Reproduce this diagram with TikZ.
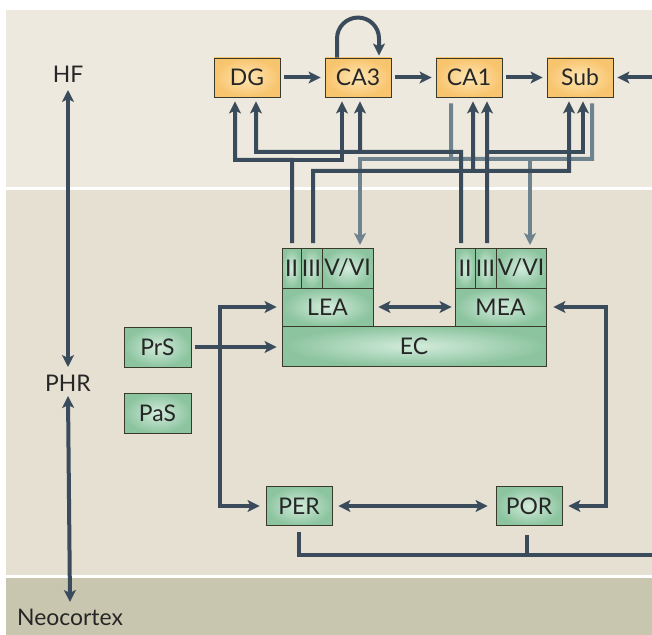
\documentclass[tikz,border=0pt]{standalone}
\usepackage{fontspec}
\setmainfont{Lato}
\usetikzlibrary{arrows.meta}
\definecolor{bgtop}{HTML}{EDE9DF}
\definecolor{bgmid}{HTML}{E5E0D2}
\definecolor{bgbot}{HTML}{C9C6B0}
\definecolor{lnd}{HTML}{3A4C5B}
\definecolor{lng}{HTML}{6F838F}
\definecolor{orin}{HTML}{FEE6B4}
\definecolor{orout}{HTML}{F8C46D}
\definecolor{grin}{HTML}{D3ECDC}
\definecolor{grout}{HTML}{8CC49F}
\definecolor{bord}{HTML}{3A3A2C}
\definecolor{txt}{HTML}{262626}
\begin{document}
\begin{tikzpicture}[x=1bp,y=-1bp,
 every node/.style={text=txt,font=\fontsize{23}{26}\selectfont},
 obox/.style={draw=bord,line width=0.9bp,shading=radial,inner color=orin,outer color=orout,minimum width=66bp,minimum height=39bp,inner sep=0},
 gbox/.style={draw=bord,line width=0.9bp,shading=radial,inner color=grin,outer color=grout,inner sep=0},
 dk/.style={draw=lnd,line width=4bp},
 gy/.style={draw=lng,line width=4bp},
 tip/.style={-{Stealth[length=12bp,width=12bp,inset=3bp]}},
 tips/.style={{Stealth[length=12bp,width=12bp,inset=3bp]}-{Stealth[length=12bp,width=12bp,inset=3bp]}},
]
% background bands
\fill[white] (0,0) rectangle (652,635);
\fill[bgtop] (6,10) rectangle (652,187);
\fill[bgmid] (6,190) rectangle (652,575);
\fill[bgbot] (6,578) rectangle (652,635);
\useasboundingbox (0,0) rectangle (652,635);

% hippocampal formation boxes
\node[obox] (DG) at (247,77.5) {DG};
\node[obox] (CA3) at (358,77.5) {CA3};
\node[obox] (CA1) at (469,77.5) {CA1};
\node[obox] (Sub) at (580,77.5) {Sub};

% entorhinal cortex
\node[gbox,minimum width=19bp,minimum height=40bp] (L2) at (291.5,268) {II};
\node[gbox,minimum width=21bp,minimum height=40bp] (L3) at (311.5,268) {III};
\node[gbox,minimum width=51bp,minimum height=40bp] (L5) at (347.5,268) {V/VI};
\node[gbox,minimum width=91bp,minimum height=38bp] (LEA) at (327.5,307) {LEA};
\node[gbox,minimum width=20bp,minimum height=40bp] (M2) at (465,268) {II};
\node[gbox,minimum width=21bp,minimum height=40bp] (M3) at (485.5,268) {III};
\node[gbox,minimum width=50bp,minimum height=40bp] (M5) at (521,268) {V/VI};
\node[gbox,minimum width=91bp,minimum height=38bp] (MEA) at (500.5,307) {MEA};
\node[gbox,minimum width=264bp,minimum height=40bp] (EC) at (414,346) {EC};

% other PHR boxes
\node[gbox,minimum width=67bp,minimum height=40bp] (PrS) at (157.5,347) {PrS};
\node[gbox,minimum width=67bp,minimum height=40bp] (PaS) at (157.5,413) {PaS};
\node[gbox,minimum width=66bp,minimum height=39bp] (PER) at (299,506) {PER};
\node[gbox,minimum width=66bp,minimum height=39bp] (POR) at (529,506) {POR};

% left labels
\node (HF) at (68,74) {HF};
\node (PHR) at (68,383) {PHR};
\node (NC) at (70,617) {Neocortex};
\draw[dk,tips] ([yshift=-16bp]HF.center) -- ([yshift=16bp]PHR.center);
\draw[dk,tips] ([yshift=-13bp]PHR.center) -- ([yshift=15bp]NC.center);

% free ends
\coordinate (l2t) at (292,243);
\coordinate (l3t) at (313,243);
\coordinate (l5t) at (360,245);
\coordinate (m2t) at (461,243);
\coordinate (m3t) at (487,243);
\coordinate (m5t) at (530,245);
\coordinate (rin) at (652,77.5);
\coordinate (bot) at (652,555);

% grey return projections
\draw[gy] ([xshift=-18bp,yshift=-6bp]CA1.south) |- (592,159) -- ([xshift=12bp,yshift=-6bp]Sub.south);
\draw[gy,tip] (451,159) -| (l5t);
\draw[gy,tip] (530,159) -- (m5t);

% EC -> HF projections
\draw[dk,tip] (l3t) |- (569,171) -- ([xshift=-11bp,yshift=-4bp]Sub.south);
\draw[dk,tip] (473,171) -- ([xshift=4bp,yshift=-4bp]CA1.south);
\draw[dk,tip] (m2t) |- (256,152) -- ([xshift=9bp,yshift=-4bp]DG.south);
\draw[dk,tip] (360,152) -- ([xshift=2bp,yshift=-4bp]CA3.south);
\draw[dk,tip] (m3t) -- ([xshift=18bp,yshift=-4bp]CA1.south);
\draw[dk,tip] (487,152) -| ([xshift=3bp,yshift=-4bp]Sub.south);
\draw[dk,tip] (l2t) |- (235,160) -- ([xshift=-12bp,yshift=-4bp]DG.south);
\draw[dk,tip] (292,160) -| ([xshift=-16bp,yshift=-4bp]CA3.south);

% trisynaptic chain
\draw[dk,tip,shorten <=4bp,shorten >=4bp] (DG) -- (CA3);
\draw[dk,tip,shorten <=4bp,shorten >=4bp] (CA3) -- (CA1);
\draw[dk,tip,shorten <=4bp,shorten >=4bp] (CA1) -- (Sub);
\draw[dk,tip,shorten >=4bp] (rin) -- (Sub.east);
\draw[dk,tip] ([xshift=-21bp]CA3.north) -- ++(0,-19) arc[start angle=180,end angle=0,radius=21bp] -- ([xshift=21bp,yshift=2bp]CA3.north);

% PHR connections
\draw[dk,tips,shorten <=5bp,shorten >=3bp] (LEA) -- (MEA);
\draw[dk,tip,shorten <=4bp,shorten >=5bp] (PrS.east) -- (PrS.east -| EC.west);
\draw[dk,tips] ([xshift=-6bp]PER.west) -| (220,307) -- ([xshift=-5bp]LEA.west);
\draw[dk,tips] ([xshift=6bp]POR.east) -| (606,307) -- ([xshift=7bp]MEA.east);
\draw[dk,tips,shorten <=6bp,shorten >=8bp] (PER) -- (POR);
\draw[dk] ([yshift=-6bp]PER.south) |- (bot);
\draw[dk] ([xshift=-2bp,yshift=-9bp]POR.south) -- ([xshift=-2bp]POR.south |- bot);
\end{tikzpicture}
\end{document}
